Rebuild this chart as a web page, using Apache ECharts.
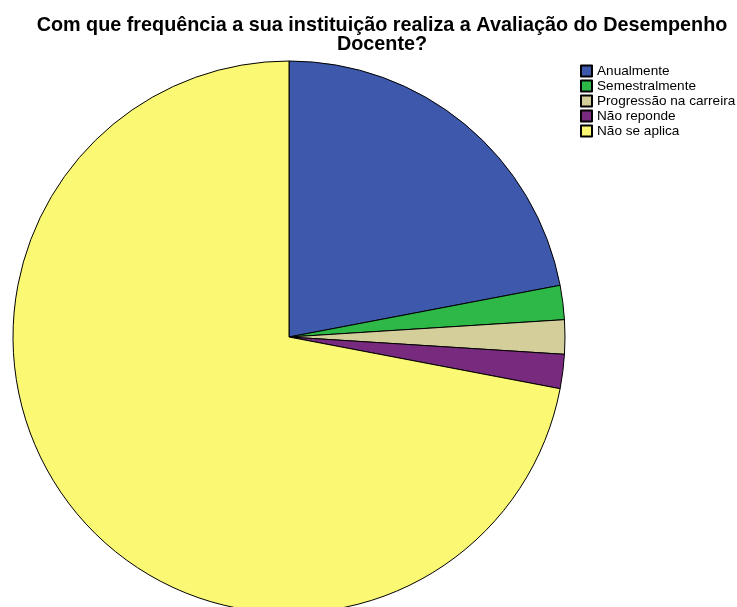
<!DOCTYPE html>
<html>
<head>
<meta charset="utf-8">
<script src="https://cdn.jsdelivr.net/npm/echarts@6/dist/echarts.min.js"></script>
<style>
  html, body { margin: 0; padding: 0; background: #fff; }
  #chart { width: 737px; height: 607px; }
</style>
</head>
<body>
<div id="chart"></div>
<script>
// Response categories and counts
const categories = ['Anualmente', 'Semestralmente', 'Progressão na carreira', 'Não reponde', 'Não se aplica'];
const counts = [11, 1, 1, 1, 36];
const colors = ['#3E58AC', '#2EB848', '#D4CE9A', '#782B7E', '#FBF873'];

const chart = echarts.init(document.getElementById('chart'), null, { renderer: 'canvas' });

chart.setOption({
  animation: false,
  backgroundColor: '#ffffff',
  title: {
    text: 'Com que frequência a sua instituição realiza a Avaliação do Desempenho\nDocente?',
    left: 382,
    top: 16,
    padding: 0,
    textAlign: 'center',
    textStyle: {
      fontFamily: 'Liberation Sans, Arial, sans-serif',
      fontSize: 19.8,
      fontWeight: 'bold',
      color: '#000',
      lineHeight: 19
    }
  },
  legend: {
    orient: 'vertical',
    left: 580,
    top: 64,
    padding: 0,
    itemWidth: 11,
    itemHeight: 11,
    itemGap: 1,
    icon: 'rect',
    selectedMode: false,
    textStyle: {
      fontFamily: 'Liberation Sans, Arial, sans-serif',
      fontSize: 13.6,
      lineHeight: 13,
      color: '#000'
    },
    data: categories
  },
  series: [{
    type: 'pie',
    center: [289, 337],
    radius: 276,
    startAngle: 90,
    clockwise: true,
    label: { show: false },
    labelLine: { show: false },
    emphasis: { disabled: true },
    itemStyle: { borderColor: '#000', borderWidth: 1 },
    data: categories.map((name, i) => ({
      name: name,
      value: counts[i],
      itemStyle: { color: colors[i] }
    }))
  }]
});
</script>
</body>
</html>
